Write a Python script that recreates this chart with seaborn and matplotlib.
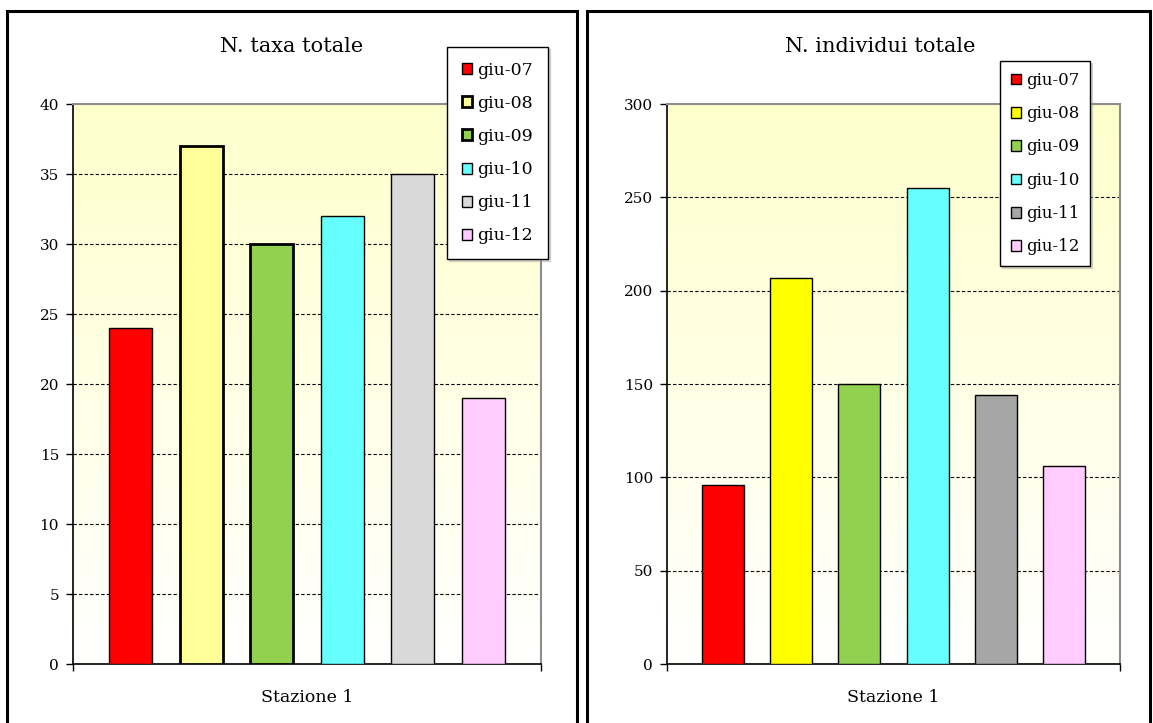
import numpy as np
import pandas as pd
import matplotlib
matplotlib.use("Agg")
import matplotlib.pyplot as plt
import seaborn as sns
from matplotlib.patches import Rectangle

# Dati di campionamento (giugno 2007-2012), stazione 1
stazione = ["Stazione 1"]
campagne = ["giu-07", "giu-08", "giu-09", "giu-10", "giu-11", "giu-12"]
taxa_totale = [24, 37, 30, 32, 35, 19]
individui_totale = [96, 207, 150, 255, 144, 106]

colori_taxa = ["#FF0000", "#FFFF99", "#92D050", "#66FFFF", "#D9D9D9", "#FFCCFF"]
colori_individui = ["#FF0000", "#FFFF00", "#92D050", "#66FFFF", "#A6A6A6", "#FFCCFF"]

plt.rcParams["font.family"] = ["DejaVu Serif"]

W, H = 1153, 723
fig = plt.figure(figsize=(W / 100, H / 100), dpi=100)


def fx(px):
    return px / W


def fy(py):
    return 1 - py / H


def pannello(x0, x1, valori, colori, ymax, passo, titolo, cx_titolo,
             leg_xy, leg_font, leg_space, leg_pad, spessi):
    pos = [fx(x0), fy(664), fx(x1) - fx(x0), fy(104) - fy(664)]

    # sfondo sfumato dell'area del grafico
    bg = fig.add_axes(pos, zorder=0)
    grad = np.linspace(0, 1, 256).reshape(-1, 1)
    top = np.array([1.0, 1.0, 0.80])
    bot = np.array([1.0, 1.0, 1.0])
    img = top[None, None, :] * (1 - grad[..., None]) + bot[None, None, :] * grad[..., None]
    bg.imshow(img, aspect="auto", extent=[0, 1, 0, 1])
    bg.set_axis_off()

    ax = fig.add_axes(pos, zorder=1)
    ax.set_facecolor("none")

    df = pd.DataFrame({"stazione": stazione * len(campagne),
                       "campagna": campagne,
                       "valore": valori})
    sns.barplot(data=df, x="stazione", y="valore", hue="campagna",
                palette=colori, saturation=1, width=0.905, gap=0.39,
                edgecolor="black", linewidth=1.0, legend=False, ax=ax,
                zorder=3)
    barre = list(ax.patches)
    for b, c in zip(barre, campagne):
        if c in spessi:
            b.set_linewidth(2.0)

    ax.set_xlim(-0.5, 0.5)
    ax.set_ylim(0, ymax)
    ticks = np.arange(0, ymax + passo, passo)
    ax.set_yticks(ticks)
    for t in ticks[1:-1]:
        ax.axhline(t, color="black", lw=0.8, ls=(0, (3, 2)), zorder=1)

    ax.set_xticks([-0.5, 0.5], minor=True)
    ax.tick_params(axis="x", which="major", length=0, pad=18, labelsize=12.5)
    ax.tick_params(axis="x", which="minor", length=5, width=1, direction="out")
    ax.tick_params(axis="y", length=5, width=1, direction="out", pad=5,
                   labelsize=11)
    ax.set_xlabel("")
    ax.set_ylabel("")
    for s in ["left", "bottom"]:
        ax.spines[s].set_color("black")
        ax.spines[s].set_linewidth(1.2)
    for s in ["top", "right"]:
        ax.spines[s].set_color("#8C8C8C")
        ax.spines[s].set_linewidth(1.5)

    fig.text(fx(cx_titolo), fy(46), titolo, ha="center", va="center",
             fontsize=15)

    leg = ax.legend(barre, campagne, loc="upper left",
                    bbox_to_anchor=(fx(leg_xy[0]), fy(leg_xy[1])),
                    bbox_transform=fig.transFigure, frameon=True,
                    fancybox=False, edgecolor="black", framealpha=1,
                    fontsize=leg_font, handlelength=0.6, handleheight=0.6,
                    handletextpad=0.3, labelspacing=leg_space,
                    borderpad=leg_pad, borderaxespad=0,
                    shadow={"color": "0.6", "alpha": 0.35, "ox": 1.2, "oy": -1.2})
    leg.get_frame().set_linewidth(1.0)
    leg.set_zorder(10)
    return ax


pannello(73, 541, taxa_totale, colori_taxa, 40, 5, "N. taxa totale", 292,
         (447, 47), 12.5, 0.93, 0.85, ["giu-08", "giu-09"])
pannello(667, 1120, individui_totale, colori_individui, 300, 50,
         "N. individui totale", 880, (1000, 61), 12, 0.98, 0.65, [])

# cornici dei due riquadri
fig.add_artist(Rectangle((fx(7), -0.05), fx(577) - fx(7), fy(11) + 0.05,
                         transform=fig.transFigure, fill=False,
                         edgecolor="black", lw=2.2))
fig.add_artist(Rectangle((fx(587), -0.05), fx(1150) - fx(587), fy(11) + 0.05,
                         transform=fig.transFigure, fill=False,
                         edgecolor="black", lw=2.2))

fig.savefig("out.png", dpi=100)
